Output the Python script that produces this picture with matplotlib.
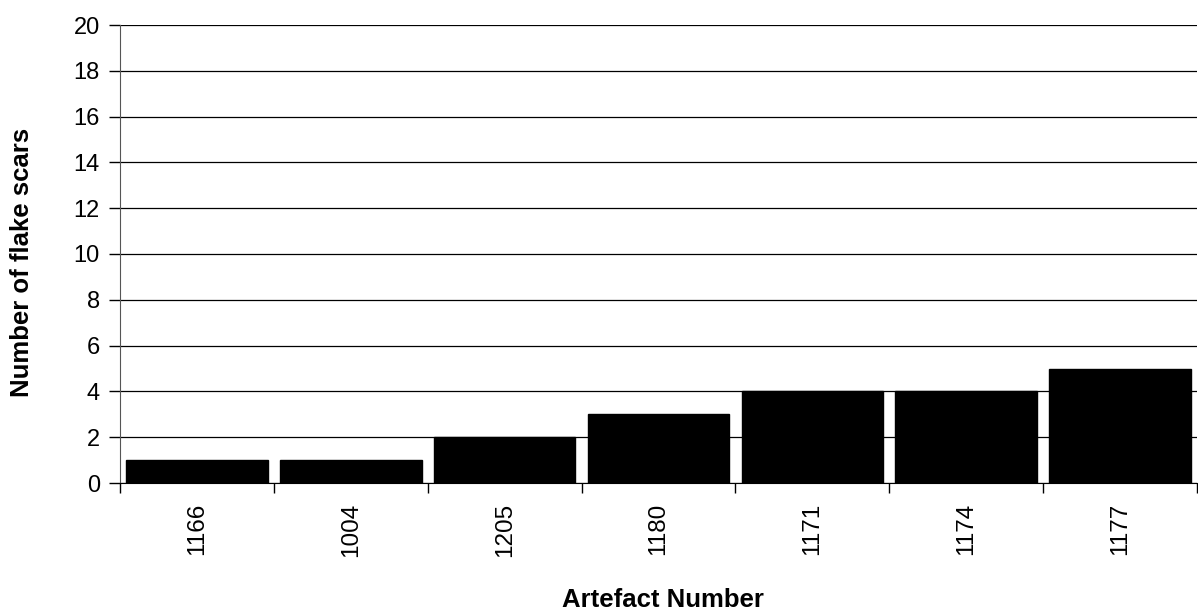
import matplotlib
matplotlib.use("Agg")
import matplotlib.pyplot as plt
import numpy as np

categories = ["1166", "1004", "1205", "1180", "1171", "1174", "1177"]
values = [1, 1, 2, 3, 4, 4, 5]
y_ticks = [0, 2, 4, 6, 8, 10, 12, 14, 16, 18, 20]

plt.rcParams['font.family'] = ['Liberation Sans', 'DejaVu Sans']

fig = plt.figure(figsize=(11.98, 6.14), dpi=100)
ax = fig.add_axes([120/1198, 1 - 483/614, 1077/1198, 458/614])

x = np.arange(len(categories))
ax.bar(x, values, width=0.92, color='black', edgecolor='black', linewidth=1, zorder=3)

ax.set_xlim(-0.5, len(categories) - 0.5)
ax.set_ylim(0, 20)
ax.set_yticks(y_ticks)
ax.set_yticklabels([str(t) for t in y_ticks], fontsize=17)
ax.yaxis.grid(True, color='black', linewidth=0.9, zorder=0)
ax.set_axisbelow(True)

ax.set_xticks(x)
ax.set_xticklabels(categories, rotation=90, fontsize=17.5)
ax.set_xticks(np.arange(-0.5, len(categories) + 0.5, 1), minor=True)
ax.tick_params(axis='x', which='major', length=0, pad=14.5)
ax.tick_params(axis='x', which='minor', length=7, width=1, color='black')
ax.tick_params(axis='y', which='major', length=8, width=1, pad=6.5, color='black')

for s in ['top', 'right']:
    ax.spines[s].set_visible(False)
ax.spines['left'].set_color('#555555')
ax.spines['bottom'].set_color('black')

fig.text(22/1198, 1 - 262/614, "Number of flake scars", rotation=90, fontsize=18.5,
         fontweight='bold', ha='center', va='center')
fig.text(663/1198, 1 - 607/614, "Artefact Number", fontsize=18.5,
         fontweight='bold', ha='center', va='baseline')

fig.savefig("out.png", dpi=100)
